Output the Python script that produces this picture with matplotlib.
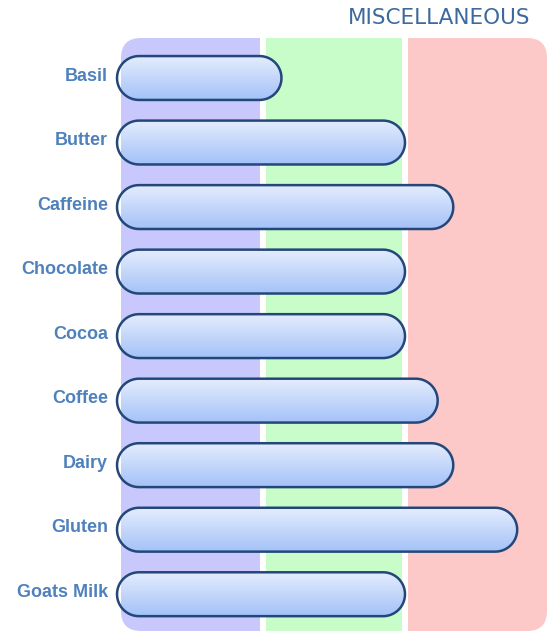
import numpy as np
import matplotlib
matplotlib.use("Agg")
import matplotlib.pyplot as plt
from matplotlib.patches import FancyBboxPatch, Rectangle, PathPatch
from matplotlib.path import Path
from matplotlib.transforms import offset_copy

categories = ["Basil", "Butter", "Caffeine", "Chocolate", "Cocoa",
              "Coffee", "Dairy", "Gluten", "Goats Milk"]
values = [1.13, 2.0, 2.34, 2.0, 2.0, 2.23, 2.34, 2.79, 2.0]
band_colors = ["#c8c8fc", "#c8fcc8", "#fcc8c8"]
title = "MISCELLANEOUS"

W, H = 552, 631
fig = plt.figure(figsize=(W / 100, H / 100), dpi=100)
# axes box in pixels: x 121..547, y 38..631
ax = fig.add_axes([121 / W, 0, 426 / W, 593 / H])
ymin, ymax = 8.57, -0.62
ax.set_xlim(0, 3)
ax.set_ylim(ymin, ymax)
ax.axis("off")

px_x = 426 / 3.0               # pixels per x unit
px_y = 593 / (ymin - ymax)     # pixels per y unit

# category labels, a little above the bar centres
lab_tr = offset_copy(ax.get_yaxis_transform(), fig=fig, x=-13, y=2, units="dots")
for i, name in enumerate(categories):
    ax.text(0, i, name, transform=lab_tr, ha="right", va="center",
            fontsize=13, fontweight="bold", color="#4f81bd",
            family="Liberation Sans")

# rounded background, cut into three bands with white gaps
bg = FancyBboxPatch((0, 0), 1, 1, boxstyle="round,pad=0,rounding_size=0.047",
                    mutation_aspect=426 / 593, transform=ax.transAxes,
                    facecolor="none", edgecolor="none")
ax.add_patch(bg)
gap = 0.02
for i, c in enumerate(band_colors):
    x0 = i + (gap if i > 0 else 0)
    x1 = i + 1 - (gap if i < 2 else 0)
    r = Rectangle((x0, -1), x1 - x0, 11, facecolor=c, edgecolor="none", zorder=0)
    ax.add_patch(r)
    r.set_clip_path(bg)


def pill_path(x0, x1, yc, h):
    # stadium shape, round in pixels
    ry = h / 2
    rx = ry * px_y / px_x
    t = np.linspace(-np.pi / 2, np.pi / 2, 40)
    right = np.column_stack([x1 - rx + rx * np.cos(t), yc + ry * np.sin(t)])
    left = np.column_stack([x0 + rx - rx * np.cos(t), yc - ry * np.sin(t)])
    verts = np.vstack([right, left, right[:1]])
    codes = [Path.MOVETO] + [Path.LINETO] * (len(verts) - 2) + [Path.CLOSEPOLY]
    return Path(verts, codes)


# pill bars with vertical gradient
h = 0.68
start = -0.028
grad = np.linspace(0, 1, 64).reshape(-1, 1)
cmap = matplotlib.colors.LinearSegmentedColormap.from_list("g", ["#e4ecfd", "#a4c2f8"])
for i, v in enumerate(values):
    pill = PathPatch(pill_path(start, v, i, h), facecolor="none",
                     edgecolor="#23477a", linewidth=1.8, zorder=3, clip_on=False)
    ax.add_patch(pill)
    im = ax.imshow(grad, extent=[start, v, i + h / 2, i - h / 2], cmap=cmap,
                   aspect="auto", zorder=2, interpolation="bilinear")
    im.set_clip_path(pill)

ax.set_xlim(0, 3)
ax.set_ylim(ymin, ymax)
ax.set_aspect("auto")

fig.text(530 / W, 1 - 18 / H, title, ha="right", va="center",
         fontsize=15.5, color="#3d6a9e", family="DejaVu Sans")

fig.savefig("out.png", dpi=100)
